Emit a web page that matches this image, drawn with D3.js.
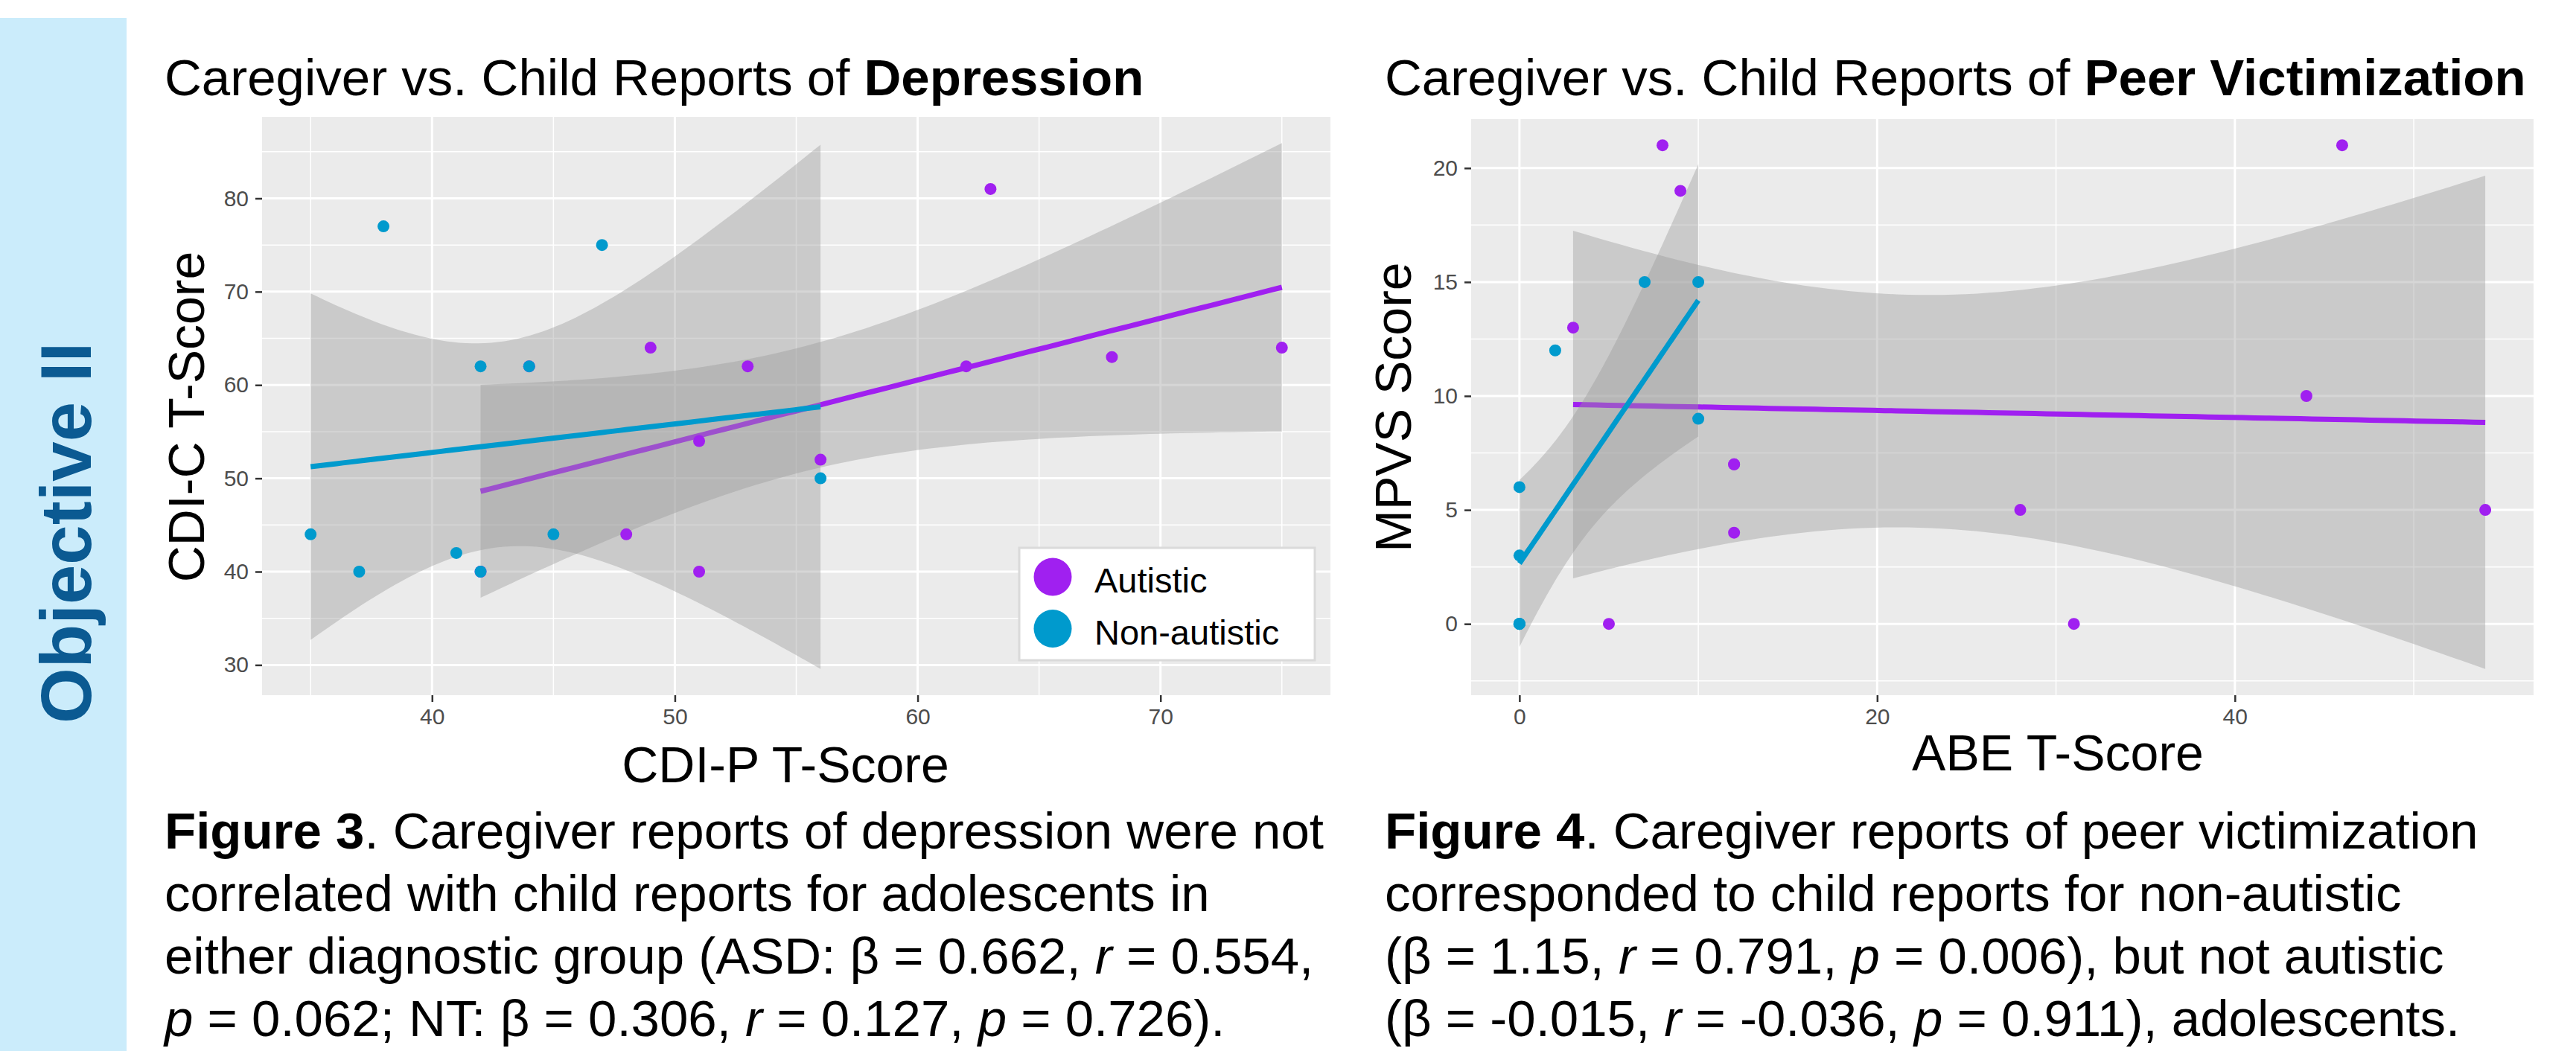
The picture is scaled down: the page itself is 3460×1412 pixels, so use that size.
<!DOCTYPE html>
<html><head><meta charset="utf-8">
<script src="https://cdn.jsdelivr.net/npm/d3@7"></script>
<style>
body{margin:0;background:#fff;}
svg{display:block;font-family:"Liberation Sans",Arial,Helvetica,sans-serif;}
</style>
</head><body>
<svg id="c" width="3460" height="1412"></svg>
<script>
// ---------------- data ----------------
const groups = ["Autistic", "Non-autistic"];
const groupColors = ["#A020F0", "#009ACD"];

// Figure 3: CDI-P (caregiver) vs CDI-C (child)
const depAutX = [42, 44, 48, 49, 51, 51, 53, 56, 62, 63, 68, 75];
const depAutY = [40, 62, 44, 64, 54, 40, 62, 52, 62, 81, 63, 64];
const depNonX = [35, 37, 38, 41, 42, 42, 44, 45, 47, 56];
const depNonY = [44, 40, 77, 42, 62, 40, 62, 44, 75, 50];
const depXTicks = [40, 50, 60, 70];
const depXMinor = [35, 45, 55, 65, 75];
const depYTicks = [30, 40, 50, 60, 70, 80];
const depYMinor = [35, 45, 55, 65, 75, 85];

// Figure 4: ABE (caregiver) vs MPVS (child)
const pvAutX = [3, 5, 8, 9, 12, 12, 12, 28, 31, 44, 46, 54];
const pvAutY = [13, 0, 21, 19, 7, 7, 4, 5, 0, 10, 21, 5];
const pvNonX = [0, 0, 0, 0, 0, 0, 2, 7, 10, 10];
const pvNonY = [6, 3, 0, 0, 0, 0, 12, 15, 15, 9];
const pvXTicks = [0, 20, 40];
const pvXMinor = [10, 30, 50];
const pvYTicks = [0, 5, 10, 15, 20];
const pvYMinor = [-2.5, 2.5, 7.5, 12.5, 17.5];

const caption3 = [
  [["b","Figure 3"],["n",". Caregiver reports of depression were not"]],
  [["n","correlated with child reports for adolescents in"]],
  [["n","either diagnostic group (ASD: β = 0.662, "],["i","r"],["n"," = 0.554,"]],
  [["i","p"],["n"," = 0.062; NT: β = 0.306, "],["i","r"],["n"," = 0.127, "],["i","p"],["n"," = 0.726)."]]
];
const caption4 = [
  [["b","Figure 4"],["n",". Caregiver reports of peer victimization"]],
  [["n","corresponded to child reports for non-autistic"]],
  [["n","(β = 1.15, "],["i","r"],["n"," = 0.791, "],["i","p"],["n"," = 0.006), but not autistic"]],
  [["n","(β = -0.015, "],["i","r"],["n"," = -0.036, "],["i","p"],["n"," = 0.911), adolescents."]]
];

// ---------------- stats helpers ----------------
function lgamma(z){
  const c=[0.99999999999980993,676.5203681218851,-1259.1392167224028,771.32342877765313,
    -176.61502916214059,12.507343278686905,-0.13857109526572012,9.9843695780195716e-6,1.5056327351493116e-7];
  if(z<0.5) return Math.log(Math.PI/Math.sin(Math.PI*z)) - lgamma(1-z);
  z -= 1; let x=c[0]; for(let i=1;i<9;i++) x += c[i]/(z+i);
  const t=z+7.5;
  return 0.5*Math.log(2*Math.PI)+(z+0.5)*Math.log(t)-t+Math.log(x);
}
function tCdf(t, v){
  const k = Math.exp(lgamma((v+1)/2)-lgamma(v/2)-0.5*Math.log(v*Math.PI));
  const f = u => k*Math.pow(1+u*u/v, -(v+1)/2);
  const N=2000, h=t/N; let s=f(0)+f(t);
  for(let i=1;i<N;i++) s += (i%2?4:2)*f(i*h);
  return 0.5 + s*h/3;
}
function tQuantile(p, v){
  let lo=0, hi=60;
  for(let i=0;i<60;i++){ const m=(lo+hi)/2; if(tCdf(m,v)<p) lo=m; else hi=m; }
  return (lo+hi)/2;
}
function fitLM(xs, ys){
  const n=xs.length, xm=d3.mean(xs), ym=d3.mean(ys);
  let sxx=0, sxy=0;
  xs.forEach((x,i)=>{ sxx+=(x-xm)*(x-xm); sxy+=(x-xm)*(ys[i]-ym); });
  const b=sxy/sxx, a=ym-b*xm;
  let sse=0; xs.forEach((x,i)=>{ const r=ys[i]-a-b*x; sse+=r*r; });
  const s=Math.sqrt(sse/(n-2)), tq=tQuantile(0.975, n-2);
  const [x0,x1]=d3.extent(xs);
  return d3.range(80).map(i=>{
    const x=x0+(x1-x0)*i/79, fit=a+b*x;
    const se=s*Math.sqrt(1/n+(x-xm)*(x-xm)/sxx);
    return {x, y:fit, lo:fit-tq*se, hi:fit+tq*se};
  });
}

// ---------------- drawing ----------------
const svg = d3.select("#c");
svg.append("rect").attr("width",3460).attr("height",1412).attr("fill","#fff");

// left banner
svg.append("rect").attr("x",0).attr("y",24).attr("width",170).attr("height",1388).attr("fill","#CBECFB");
svg.append("text").attr("transform","translate(122,716) rotate(-90)")
  .attr("text-anchor","middle").attr("font-size",96).attr("font-weight","bold")
  .attr("fill","#0B5A92").text("Objective II");

function drawChart(cfg){
  const g = svg.append("g");
  const series = cfg.series.map((s,i)=>({xs:s[0], ys:s[1], color:groupColors[i], fit:fitLM(s[0], s[1])}));
  const allX = series.flatMap(s=>s.xs);
  const allY = series.flatMap(s=>s.ys.concat(s.fit.map(d=>d.lo), s.fit.map(d=>d.hi)));
  const [xa,xb]=d3.extent(allX), [ya,yb]=d3.extent(allY);
  const xs = d3.scaleLinear().domain([xa-0.05*(xb-xa), xb+0.05*(xb-xa)]).range([cfg.left, cfg.right]);
  const ys = d3.scaleLinear().domain([ya-0.05*(yb-ya), yb+0.05*(yb-ya)]).range([cfg.bottom, cfg.top]);

  g.append("rect").attr("x",cfg.left).attr("y",cfg.top)
    .attr("width",cfg.right-cfg.left).attr("height",cfg.bottom-cfg.top).attr("fill","#EBEBEB");
  // minor grid
  g.selectAll(".mx").data(cfg.xMinor).join("line")
    .attr("x1",d=>xs(d)).attr("x2",d=>xs(d)).attr("y1",cfg.top).attr("y2",cfg.bottom)
    .attr("stroke","#fff").attr("stroke-width",1.5);
  g.selectAll(".my").data(cfg.yMinor).join("line")
    .attr("y1",d=>ys(d)).attr("y2",d=>ys(d)).attr("x1",cfg.left).attr("x2",cfg.right)
    .attr("stroke","#fff").attr("stroke-width",1.5);
  // major grid
  g.selectAll(".gx").data(cfg.xTicks).join("line")
    .attr("x1",d=>xs(d)).attr("x2",d=>xs(d)).attr("y1",cfg.top).attr("y2",cfg.bottom)
    .attr("stroke","#fff").attr("stroke-width",3);
  g.selectAll(".gy").data(cfg.yTicks).join("line")
    .attr("y1",d=>ys(d)).attr("y2",d=>ys(d)).attr("x1",cfg.left).attr("x2",cfg.right)
    .attr("stroke","#fff").attr("stroke-width",3);

  // smooths: ribbon then line, per group
  const area = d3.area().x(d=>xs(d.x)).y0(d=>ys(d.lo)).y1(d=>ys(d.hi));
  const line = d3.line().x(d=>xs(d.x)).y(d=>ys(d.y));
  series.forEach(s=>{
    g.append("path").attr("d",area(s.fit)).attr("fill","#999999").attr("fill-opacity",0.4);
    g.append("path").attr("d",line(s.fit)).attr("fill","none").attr("stroke",s.color).attr("stroke-width",7);
  });
  // points
  series.forEach(s=>{
    g.selectAll(null).data(s.xs.map((x,i)=>[x,s.ys[i]])).join("circle")
      .attr("cx",d=>xs(d[0])).attr("cy",d=>ys(d[1])).attr("r",8).attr("fill",s.color);
  });

  // axes
  const ax = g.append("g").attr("transform",`translate(0,${cfg.bottom})`)
    .call(d3.axisBottom(xs).tickValues(cfg.xTicks).tickSize(9).tickPadding(9));
  const ay = g.append("g").attr("transform",`translate(${cfg.left},0)`)
    .call(d3.axisLeft(ys).tickValues(cfg.yTicks).tickSize(9).tickPadding(9));
  [ax,ay].forEach(a=>{
    a.select(".domain").remove();
    a.selectAll(".tick line").attr("stroke","#333333").attr("stroke-width",2.5);
    a.selectAll(".tick text").attr("fill","#4D4D4D").attr("font-size",30)
      .attr("font-family",'"Liberation Sans",Arial,sans-serif');
  });

  // titles
  const t = g.append("text").attr("x",cfg.titleX).attr("y",128).attr("font-size",69).attr("fill","#000");
  t.append("tspan").text(cfg.title[0]);
  t.append("tspan").attr("font-weight","bold").text(cfg.title[1]);
  g.append("text").attr("x",cfg.xTitlePos[0]).attr("y",cfg.xTitlePos[1]).attr("text-anchor","middle")
    .attr("font-size",68).text(cfg.xTitle);
  g.append("text").attr("transform",`translate(${cfg.yTitlePos[0]},${cfg.yTitlePos[1]}) rotate(-90)`)
    .attr("text-anchor","middle").attr("font-size",68).text(cfg.yTitle);

  // caption
  cfg.caption.forEach((ln,i)=>{
    const tt = g.append("text").attr("x",cfg.titleX).attr("y",1140+i*84).attr("font-size",69);
    ln.forEach(([st,txt])=>{
      const sp = tt.append("tspan").text(txt);
      if(st==="b") sp.attr("font-weight","bold");
      if(st==="i") sp.attr("font-style","italic");
    });
  });
  return {xs, ys};
}

drawChart({
  left:352, right:1787, top:157, bottom:934,
  series:[[depAutX,depAutY],[depNonX,depNonY]],
  xTicks:depXTicks, xMinor:depXMinor, yTicks:depYTicks, yMinor:depYMinor,
  titleX:221, title:["Caregiver vs. Child Reports of ","Depression"],
  xTitle:"CDI-P T-Score", xTitlePos:[1055,1051],
  yTitle:"CDI-C T-Score", yTitlePos:[274,560],
  caption:caption3
});
drawChart({
  left:1976, right:3403, top:160, bottom:934,
  series:[[pvAutX,pvAutY],[pvNonX,pvNonY]],
  xTicks:pvXTicks, xMinor:pvXMinor, yTicks:pvYTicks, yMinor:pvYMinor,
  titleX:1860, title:["Caregiver vs. Child Reports of ","Peer Victimization"],
  xTitle:"ABE T-Score", xTitlePos:[2764,1035],
  yTitle:"MPVS Score", yTitlePos:[1895,547],
  caption:caption4
});

// legend (figure 3)
const lg = svg.append("g");
lg.append("rect").attr("x",1369).attr("y",736).attr("width",397).attr("height",151)
  .attr("fill","#fff").attr("stroke","#DADADA").attr("stroke-width",3);
groups.forEach((name,i)=>{
  lg.append("circle").attr("cx",1414).attr("cy",775+i*69.5).attr("r",25.5).attr("fill",groupColors[i]);
  lg.append("text").attr("x",1470).attr("y",796+i*69.5).attr("font-size",47).attr("fill","#000").text(name);
});
</script>
</body></html>
